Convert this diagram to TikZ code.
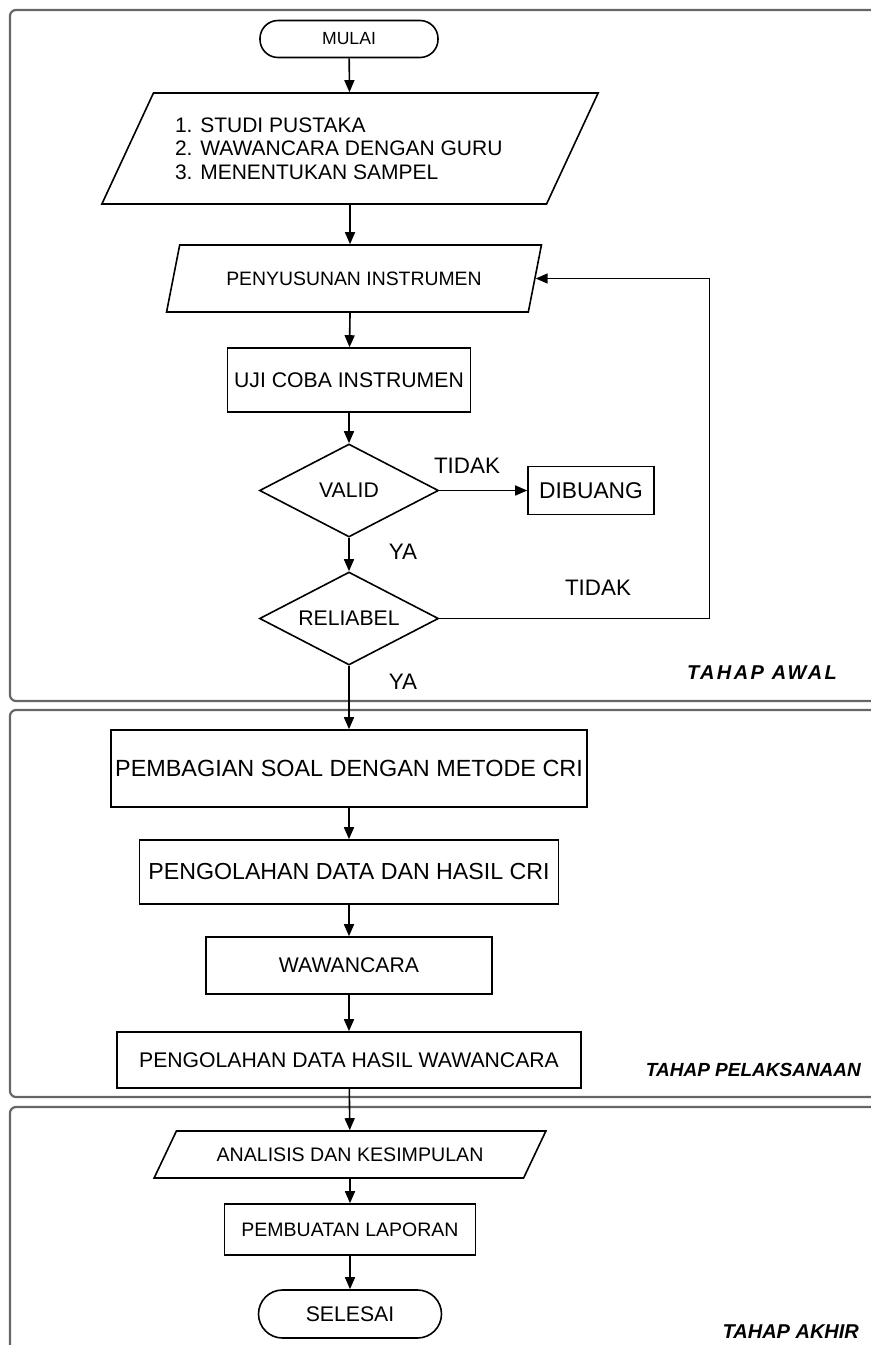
\documentclass[tikz,border=0pt]{standalone}
\usepackage{fontspec}
\setmainfont{Liberation Sans}
\newfontfamily\stagefont{Liberation Sans}
\usetikzlibrary{shapes.geometric,arrows.meta}

\begin{document}
\begin{tikzpicture}
[
    x=0.5pt, y=-0.5pt,
    every node/.style={font=\fontsize{10.6}{12}\selectfont},
    proc/.style={draw, line width=0.8pt, inner sep=0pt},
    term/.style={proc, rounded corners=9pt},
    io/.style={proc, trapezium, trapezium stretches=true},
    dec/.style={proc, diamond, aspect=1.9},
    lbl/.style={font=\fontsize{11.2}{12}\selectfont},
    stage/.style={font=\stagefont\bfseries\itshape\fontsize{10}{12}\selectfont},
    arr/.style={-{Triangle[length=6pt,width=5pt]}, line width=0.8pt},
    frame/.style={draw=black!60, line width=1.1pt, rounded corners=3pt},
]
\useasboundingbox (0,0) rectangle (871,1345);
\draw[frame] (871,10) -- (10,10) -- (10,701) -- (871,701);
\draw[frame] (871,710) -- (10,710) -- (10,1097) -- (871,1097);
\draw[frame] (871,1107) -- (10,1107) -- (10,1345);

\node[term, minimum width=89pt, minimum height=18.5pt, font=\fontsize{8.8}{10}\selectfont] (mulai) at (349,39) {MULAI};
\node[io, trapezium left angle=56, trapezium right angle=124, minimum width=248.5pt, minimum height=55.5pt] (awal) at (350,148.5)
    {\hspace*{-8pt}\parbox{167pt}{\fontsize{10.5}{11.75}\selectfont 1. STUDI PUSTAKA\\2. WAWANCARA DENGAN GURU\\3. MENENTUKAN SAMPEL}};
\node[io, trapezium left angle=55, trapezium right angle=125, minimum width=187.5pt, minimum height=33.5pt, font=\fontsize{9.7}{11}\selectfont] (susun) at (354,278.5) {PENYUSUNAN INSTRUMEN};
\node[proc, minimum width=121.5pt, minimum height=32pt] (uji) at (349,380) {UJI COBA INSTRUMEN};
\node[dec, minimum width=89.5pt, minimum height=46.5pt] (valid) at (349,490.5) {VALID};
\node[proc, minimum width=63pt, minimum height=24pt, font=\fontsize{11.4}{12}\selectfont] (buang) at (591,490.5) {DIBUANG};
\node[dec, minimum width=89.5pt, minimum height=46.5pt] (reliabel) at (349,618.5) {RELIABEL};
\node[lbl] (tidaka) at (467,466) {TIDAK};
\node[lbl] (yaa) at (403,552) {YA};
\node[lbl] (tidakb) at (598,588) {TIDAK};
\node[lbl] (yab) at (403,682) {YA};
\node[stage, anchor=east] (tawal) at (844,673) {\addfontfeature{LetterSpace=12}TAHAP AWAL};

\node[proc, minimum width=238pt, minimum height=38.5pt, font=\fontsize{11.7}{14}\selectfont] (bagi) at (349,768.5) {PEMBAGIAN SOAL DENGAN METODE CRI};
\node[proc, minimum width=209.5pt, minimum height=32pt, font=\fontsize{11.6}{13}\selectfont] (olahcri) at (349,872) {PENGOLAHAN DATA DAN HASIL CRI};
\node[proc, minimum width=143pt, minimum height=28.5pt] (wawan) at (349,965.5) {WAWANCARA};
\node[proc, minimum width=232pt, minimum height=28pt] (olahwaw) at (349,1060) {PENGOLAHAN DATA HASIL WAWANCARA};
\node[stage, anchor=east, font=\stagefont\bfseries\itshape\fontsize{9.5}{12}\selectfont] (tlaksana) at (868,1070) {TAHAP PELAKSANAAN};

\node[io, trapezium left angle=39, trapezium right angle=141, minimum width=196pt, minimum height=23.5pt, font=\fontsize{9.8}{11}\selectfont] (analisis) at (350,1154.5) {ANALISIS DAN KESIMPULAN};
\node[proc, minimum width=125.5pt, minimum height=25.5pt, font=\fontsize{9.75}{11}\selectfont] (lapor) at (350,1229.5) {PEMBUATAN LAPORAN};
\node[term, minimum width=91.5pt, minimum height=24pt, rounded corners=12pt] (selesai) at (350,1314) {SELESAI};
\node[stage, anchor=east] (takhir) at (866,1332) {TAHAP AKHIR};

\draw[arr] (mulai) -- (awal);
\draw[arr] (awal) -- (awal.south |- susun.north);
\draw[arr] (awal.south |- susun.south) -- (uji);
\draw[arr] (uji) -- (valid);
\draw[arr] (valid) -- (buang);
\draw[arr] (valid) -- (reliabel);
\draw[arr] (reliabel.east) -- ++(270,0) |- (susun.east);
\draw[arr] (reliabel) -- (bagi);
\draw[arr] (bagi) -- (olahcri);
\draw[arr] (olahcri) -- (wawan);
\draw[arr] (wawan) -- (olahwaw);
\draw[arr] (olahwaw) -- (analisis);
\draw[arr] (analisis) -- (lapor);
\draw[arr] (lapor) -- (selesai);
\end{tikzpicture}
\end{document}
